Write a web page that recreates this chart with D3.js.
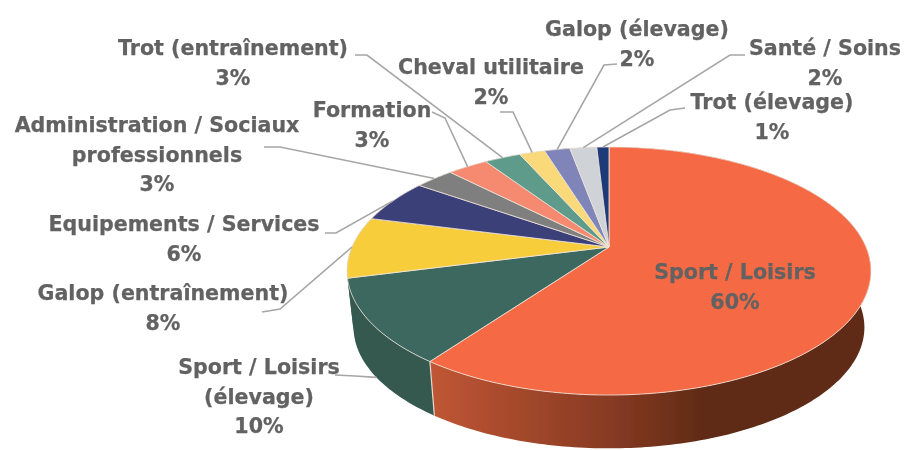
<!DOCTYPE html>
<html>
<head>
<meta charset="utf-8">
<script src="https://cdn.jsdelivr.net/npm/d3@7"></script>
<style>
  html, body { margin: 0; background: #fff; }
  text { font-family: "DejaVu Sans", sans-serif; font-weight: 700; font-size: 20.6px; fill: #626262; stroke: #626262; stroke-width: 0.25px; text-anchor: middle; }
</style>
</head>
<body>
<svg id="chart" width="905" height="450"></svg>
<script>
// Values
var names = [
  ["Sport / Loisirs"],
  ["Sport / Loisirs", "(élevage)"],
  ["Galop (entraînement)"],
  ["Equipements / Services"],
  ["Administration / Sociaux", "professionnels"],
  ["Formation"],
  ["Trot (entraînement)"],
  ["Cheval utilitaire"],
  ["Galop (élevage)"],
  ["Santé / Soins"],
  ["Trot (élevage)"]
];
var percents = [60, 10, 8, 6, 3, 3, 3, 2, 2, 2, 1];
// slice sizes as measured on the drawing, they differ a bit from the printed labels
var shares = [60, 11, 8, 5.7, 2.9, 3, 2.7, 1.9, 1.9, 2, 0.9];

var topColors = ["#f56a45", "#3e675f", "#f7cd3b", "#3b3f78", "#7f7f7f", "#f58a70", "#5f9b8a", "#f9d97a", "#7f85b8", "#cfd2d6", "#1f3b78"];
// the yellow slice shows no wall of its own, the green one runs on to the edge
var wallColors = ["url(#wallOrange)", "#34584f", "#34584f", "#2a2d58", "#5e5e5e", "#b5654f", "#456f64", "#b89f58", "#5d6188", "#999b9e", "#162b58"];

// Label placement: centre x, first line y, then the leader elbow and start
var labelX = [735, 259, 163, 184, 157, 372, 233, 491, 637, 825, 772];
var labelY = [279, 374, 300, 231, 132, 117, 55, 74, 36, 55, 109];
var leaders = [
  null,
  [[335, 375], [355, 376]],
  [[262, 312], [280, 309]],
  [[325, 233], [336, 233]],
  [[264, 147], [280, 147]],
  [[432, 112], [445, 118]],
  [[355, 55], [367, 55]],
  [[500, 112], [513, 112]],
  [[617, 64], [604, 65]],
  [[745, 55], [730, 55]],
  [[685, 108], [670, 110]]
];
var leaderLevel = [0, 1, 0, 0, 0, 0, 0, 0, 0, 0, 0];

var cx = 609, cy = 247, radius = 257, tilt = 119.4, persp = 0.1935, depth = 57, shrink = 0.025;

var svg = d3.select("#chart");
var defs = svg.append("defs");

var blur = defs.append("filter").attr("id", "soft");
blur.append("feGaussianBlur").attr("stdDeviation", 0.55);

var grad = defs.append("linearGradient")
    .attr("id", "wallOrange")
    .attr("gradientUnits", "userSpaceOnUse")
    .attr("x1", 430).attr("x2", 872).attr("y1", 0).attr("y2", 0);
grad.append("stop").attr("offset", "0%").attr("stop-color", "#c05634");
grad.append("stop").attr("offset", "40%").attr("stop-color", "#883b23");
grad.append("stop").attr("offset", "63%").attr("stop-color", "#5e2a15");
grad.append("stop").attr("offset", "100%").attr("stop-color", "#5f2b17");

var pie = d3.pie().sort(null).startAngle(0).endAngle(2 * Math.PI);
var arcs = pie(shares);

// circle angle (clockwise from the top) to screen, with a simple perspective
function project(a, level) {
  var u = Math.sin(a), v = -Math.cos(a);
  var s = 1 / (1 - persp * v);
  var k = 1 - shrink * level;
  return [cx + radius * u * s * k, cy + tilt * v * s * k + level * depth];
}

function rim(a0, a1, level) {
  var n = Math.max(2, Math.ceil((a1 - a0) * 60));
  return d3.range(n + 1).map(function(i) {
    return project(a0 + (a1 - a0) * i / n, level);
  });
}

var line = d3.line();
var g = svg.append("g").attr("filter", "url(#soft)");

// walls
g.selectAll(".wall").data(arcs).enter().append("path")
    .attr("class", "wall")
    .attr("fill", function(d, i) { return wallColors[i]; })
    .attr("d", function(d) {
      return line(rim(d.startAngle, d.endAngle, 0).concat(rim(d.startAngle, d.endAngle, 1).reverse())) + "Z";
    });

// light edge between the two visible walls
g.append("path")
    .attr("stroke", "#e6d9cc")
    .attr("stroke-width", 1.2)
    .attr("d", line([project(arcs[0].endAngle, 0), project(arcs[0].endAngle, 1)]));

// top faces
g.selectAll(".slice").data(arcs).enter().append("path")
    .attr("class", "slice")
    .attr("fill", function(d, i) { return topColors[i]; })
    .attr("stroke", "#f1e6dc")
    .attr("stroke-width", 0.8)
    .attr("stroke-linejoin", "round")
    .attr("d", function(d) {
      return line([[cx, cy]].concat(rim(d.startAngle, d.endAngle, 0))) + "Z";
    });

// leaders
g.selectAll(".leader").data(arcs).enter().append("path")
    .attr("class", "leader")
    .attr("fill", "none")
    .attr("stroke", "#a6a6a6")
    .attr("stroke-width", 1.6)
    .attr("d", function(d, i) {
      if (!leaders[i]) return null;
      var mid = (d.startAngle + d.endAngle) / 2;
      return line(leaders[i].concat([project(mid, leaderLevel[i])]));
    });

// labels
var labels = g.selectAll(".label").data(arcs).enter().append("text")
    .attr("class", "label")
    .attr("x", function(d, i) { return labelX[i]; })
    .attr("y", function(d, i) { return labelY[i]; });

labels.each(function(d, i) {
  var el = d3.select(this);
  names[i].concat(percents[i] + "%").forEach(function(t, k) {
    el.append("tspan")
        .attr("x", labelX[i])
        .attr("dy", k === 0 ? 0 : 29.6)
        .text(t);
  });
});
</script>
</body>
</html>
